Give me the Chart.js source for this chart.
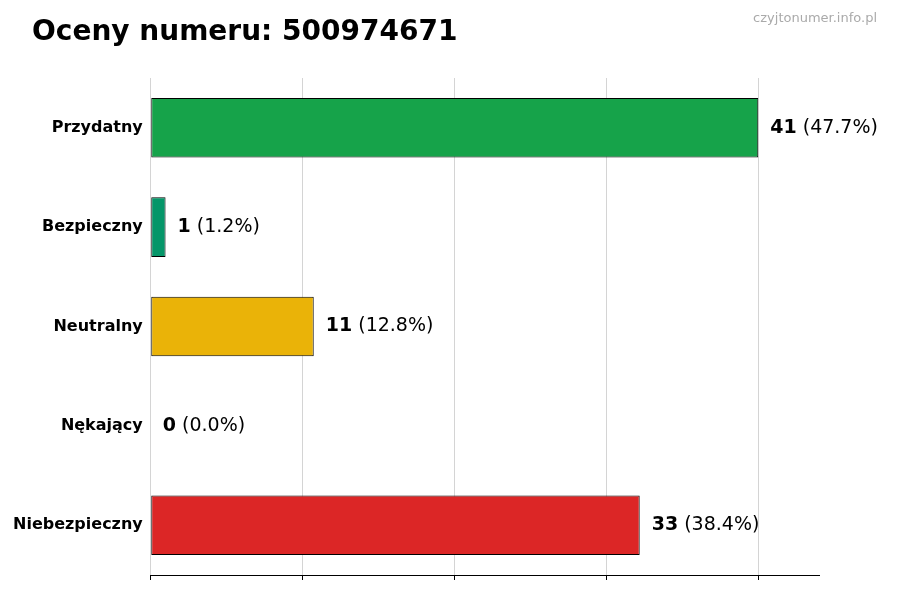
<!DOCTYPE html>
<html><head><meta charset="utf-8">
<script src="https://cdn.jsdelivr.net/npm/chart.js@4"></script>
<style>body{margin:0;background:#fff}#w{position:relative;width:900px;height:600px}</style>
</head><body><div id="w"><canvas id="c" width="900" height="600"></canvas></div>
<script>
const categories=["Przydatny","Bezpieczny","Neutralny","Nękający","Niebezpieczny"];
const values=[41,1,11,0,33];
const percents=["47.7%","1.2%","12.8%","0.0%","38.4%"];
const colors=["#16a34a","#059669","#eab308","#6b7280","#dc2626"];
const maxV=Math.max(...values);
const font="'DejaVu Sans'";
const extras={id:'extras',afterDraw(ch){
 const c=ch.ctx,m=ch.getDatasetMeta(0);
 c.save();
 c.fillStyle='#000';c.textBaseline='alphabetic';
 c.font="bold 28px "+font;c.fillText("Oceny numeru: 500974671",32,40);
 c.font="13px "+font;c.fillStyle='#aaa';c.textAlign='right';c.fillText("czyjtonumer.info.pl",877,22);
 c.textAlign='left';c.textBaseline='middle';
 m.data.forEach((b,i)=>{
  let x=b.x+12;c.fillStyle='#000';
  c.font="bold 19px "+font;const n=String(values[i]);c.fillText(n,x,b.y);
  x+=c.measureText(n).width;c.font="19px "+font;c.fillText(" ("+percents[i]+")",x,b.y);
 });
 c.restore();
}};
new Chart(document.getElementById('c'),{type:'bar',
 data:{labels:categories,datasets:[{data:values,backgroundColor:colors,borderColor:'#000',borderWidth:1,borderSkipped:false,categoryPercentage:1,barPercentage:0.6}]},
 options:{indexAxis:'y',responsive:false,animation:false,
  layout:{padding:{top:78,right:81,bottom:20,left:10}},
  plugins:{legend:{display:false},tooltip:{enabled:false}},
  scales:{
   x:{min:0,max:maxV*1.1,
    afterBuildTicks(a){a.ticks=[0,1,2,3,4].map(k=>({value:k*maxV/4}));},
    ticks:{display:false},
    grid:{color:'#d4d4d4',borderDash:[4,4],tickColor:'#000',tickLength:5,drawTicks:true},
    border:{display:true,color:'#000'}},
   y:{ticks:{color:'#000',font:{family:font,size:16,weight:'bold'}},
    grid:{display:false,drawTicks:true,tickLength:5,tickColor:'#000'},
    border:{display:false}}
  }},
 plugins:[extras]});
</script></body></html>
